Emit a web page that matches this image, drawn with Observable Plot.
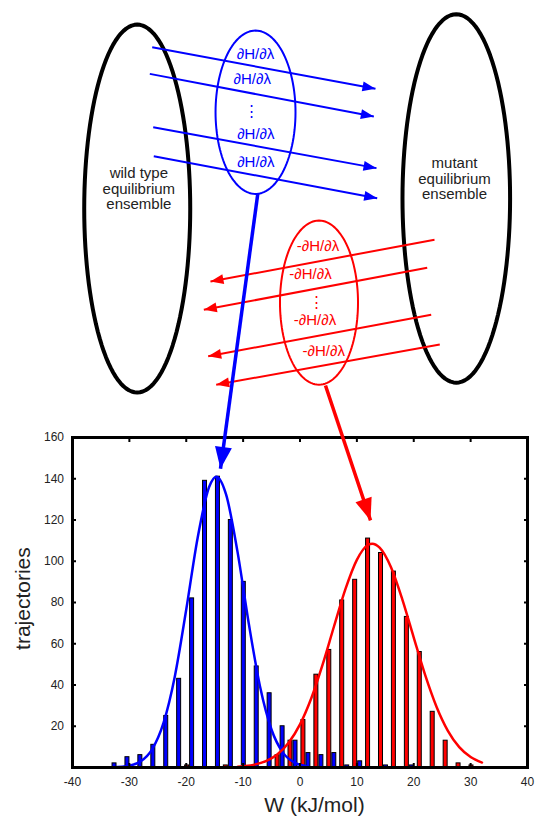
<!DOCTYPE html>
<html><head><meta charset="utf-8">
<script src="https://cdn.jsdelivr.net/npm/d3@7"></script>
<script src="https://cdn.jsdelivr.net/npm/@observablehq/plot@0.6"></script>
<style>html,body{margin:0;padding:0;background:#fff;} #chart svg{display:block;}</style>
</head><body><div id="chart"></div>
<script>
// ---------------- histogram data ----------------
const binCenters = [-33.05,-30.78,-28.51,-26.23,-23.96,-21.69,-19.41,-17.14,-14.87,-12.6,-10.32,-8.05,-5.78,-3.5,-1.23,1.04,3.32,5.59,7.86,10.14,12.41,14.68,16.95,19.23,21.5,23.77,26.05,28.32,30.59];
const wildTypeCounts = [2,5,6,11,25,43,82,139,141,120,90,49,36,20,13,7,6,7,1,3,0,1,0,1,0,0,0,0,0];
const mutantCounts   = [0,0,0,0,0,0,1,0,0,1,0,0,0,6,13,23,45,57,81,91,111,104,95,73,56,27,13,2,1];

// fitted curves, points
const forwardFitW = [-33,-30,-28,-26,-24,-22,-20,-18,-16,-14.7,-13,-11,-9,-7,-5,-3,-1,1];
const forwardFitN = [0.1,0.9,3.0,8.8,21.6,44.3,76.6,111.3,135.9,141,132.4,104.8,69.7,38.9,18.3,7.2,2.4,0.7];
const reverseFitW = [-11,-10,-8,-6,-4,-2,0,2,4,6,8,10,12,12.7,14,16,18,20,22,24,26,28,30,32];
const reverseFitN = [0.3,0.6,1.4,3.1,6.3,12.0,20.9,33.7,50.1,68.6,86.6,100.7,108.0,108.5,106.6,97.1,81.4,63.0,44.9,29.5,17.8,9.9,5.1,2.4];

const xTicks = [-40,-30,-20,-10,0,10,20,30,40];
const yTicks = [20,40,60,80,100,120,140,160];
const xTitle = "W (kJ/mol)";
const yTitle = "trajectories";

// ---------------- schematic (in the same W / trajectories units) ----------------
const ensembleNames = ["wild type\nequilibrium\nensemble", "mutant\nequilibrium\nensemble"];
const ensembleCx = [-28.62, 27.48];
const ensembleCy = [271.0, 275.9];
const ensembleRx = [9.32, 9.46];
const ensembleRy = [89.2, 89.3];
const ensembleLabelX = [-28.34, 27.16];
const ensembleLabelY = [280.6, 285.4];

const switchNames = ["forward", "reverse"];
const switchCx = [-7.82, 3.34];
const switchCy = [317.7, 225.4];
const switchRx = [7.03, 6.86];
const switchRy = [39.6, 39.8];

const forwardArrows = [
  [-25.99,349.2, 13.27,329.1],
  [-26.41,336.3, 12.98,315.6],
  [-25.81,310.4, 13.45,290.6],
  [-25.71,296.4, 13.57,276.0]
];
const reverseArrows = [
  [23.65,255.9, -15.74,235.6],
  [22.37,242.3, -16.91,221.9],
  [23.07,219.5, -16.14,199.4],
  [24.58,205.1, -14.73,185.6]
];
const connectorArrows = [
  [-7.42,278.2, -13.98,144.8],
  [4.48,185.2, 12.4,119.8]
];
const forwardLabels = ["∂H/∂λ","∂H/∂λ","⋮","∂H/∂λ","∂H/∂λ"];
const forwardLabelX = [-7.82,-8.40,-8.53,-7.77,-7.77];
const forwardLabelY = [346.0,333.6,318.2,307.2,293.5];
const reverseLabels = ["-∂H/∂λ","-∂H/∂λ","⋮","-∂H/∂λ","-∂H/∂λ"];
const reverseLabelX = [3.16,1.85,2.90,2.64,4.18];
const reverseLabelY = [252.6,239.4,225.6,216.7,201.8];

// ---------------- build tables ----------------
const BLUE = "#0000ff", RED = "#ff0000";
const bins = binCenters.map((c, i) => ({c, blue: wildTypeCounts[i], red: mutantCounts[i]}));
const fwdFit = forwardFitW.map((w, i) => ({w, n: forwardFitN[i]}));
const revFit = reverseFitW.map((w, i) => ({w, n: reverseFitN[i]}));
const ring = (cx, cy, rx, ry, key) => d3.range(0, 361, 3).map(a => ({key,
  x: cx + rx * Math.cos(a * Math.PI / 180), y: cy + ry * Math.sin(a * Math.PI / 180)}));
const ensembleRings = ensembleNames.flatMap((n, i) => ring(ensembleCx[i], ensembleCy[i], ensembleRx[i], ensembleRy[i], n));
const switchRings = switchNames.map((n, i) => ring(switchCx[i], switchCy[i], switchRx[i], switchRy[i], n));
const toLinks = arr => arr.map(([x1, y1, x2, y2]) => ({x1, y1, x2, y2}));
const ensembleLabels = ensembleNames.map((t, i) => ({t, x: ensembleLabelX[i], y: ensembleLabelY[i]}));
const fLabels = forwardLabels.map((t, i) => ({t, x: forwardLabelX[i], y: forwardLabelY[i]}));
const rLabels = reverseLabels.map((t, i) => ({t, x: reverseLabelX[i], y: reverseLabelY[i]}));

function head(len, wid) {
  return (color) => {
    const ns = "http://www.w3.org/2000/svg";
    const m = document.createElementNS(ns, "marker");
    m.setAttribute("viewBox", `${-len} ${-wid / 2} ${len} ${wid}`);
    m.setAttribute("markerWidth", len);
    m.setAttribute("markerHeight", wid);
    m.setAttribute("markerUnits", "userSpaceOnUse");
    m.setAttribute("refX", 0);
    m.setAttribute("refY", 0);
    m.setAttribute("orient", "auto");
    m.setAttribute("overflow", "visible");
    const p = document.createElementNS(ns, "path");
    p.setAttribute("d", `M0,0L${-len},${-wid / 2}L${-len},${wid / 2}Z`);
    p.setAttribute("fill", color);
    p.setAttribute("stroke", "none");
    m.appendChild(p);
    return m;
  };
}
const font = "'Liberation Sans', Arial, Helvetica, sans-serif";

const chart = Plot.plot({
  width: 538, height: 822,
  marginLeft: 72, marginRight: 11, marginTop: 437, marginBottom: 55,
  style: {fontFamily: font, fontSize: "12px", background: "#fff", color: "#222", overflow: "visible"},
  x: {domain: [-40, 40]},
  y: {domain: [0, 160]},
  marks: [
    Plot.rect(bins, {filter: d => d.red > 0, x1: d => d.c - 0.79, x2: d => d.c - 0.09, y1: 0, y2: "red", fill: RED, stroke: "#000", strokeWidth: 1}),
    Plot.rect(bins, {filter: d => d.blue > 0, x1: d => d.c + 0.09, x2: d => d.c + 0.79, y1: 0, y2: "blue", fill: BLUE, stroke: "#000", strokeWidth: 1}),
    Plot.line(fwdFit, {x: "w", y: "n", stroke: BLUE, strokeWidth: 2.5, curve: "monotone-x"}),
    Plot.line(revFit, {x: "w", y: "n", stroke: RED, strokeWidth: 2.5, curve: "monotone-x"}),
    Plot.frame({stroke: "#000", strokeWidth: 3}),
    Plot.axisX(xTicks, {anchor: "bottom", tickSize: 0, tickPadding: 10, tickFormat: d => String(d), label: null, fontSize: 12, color: "#222"}),
    Plot.axisX(xTicks, {anchor: "bottom", tickSize: -4, tickFormat: () => "", label: null, strokeWidth: 2, color: "#000"}),
    Plot.axisX(xTicks, {anchor: "top", tickSize: -4, tickFormat: () => "", label: null, strokeWidth: 2, color: "#000"}),
    Plot.axisY(yTicks, {anchor: "left", tickSize: 0, tickPadding: 8.5, tickFormat: d => String(d), label: null, fontSize: 12, color: "#222"}),
    Plot.axisY(yTicks, {anchor: "left", tickSize: -4, tickFormat: () => "", label: null, strokeWidth: 2, color: "#000"}),
    Plot.axisY(yTicks, {anchor: "right", tickSize: -4, tickFormat: () => "", label: null, strokeWidth: 2, color: "#000"}),
    Plot.text([xTitle], {x: 2.55, y: -18.4, text: d => d, fontSize: 21, fill: "#222", textAnchor: "middle"}),
    Plot.text([yTitle], {x: -48.67, y: 81.9, text: d => d, fontSize: 21, fill: "#222", rotate: -90, textAnchor: "middle"}),
    // schematic
    Plot.line(ensembleRings, {x: "x", y: "y", z: "key", stroke: "#000", strokeWidth: 4}),
    Plot.line(switchRings[0], {x: "x", y: "y", stroke: BLUE, strokeWidth: 2}),
    Plot.line(switchRings[1], {x: "x", y: "y", stroke: RED, strokeWidth: 2}),
    Plot.link(toLinks(forwardArrows), {x1: "x1", y1: "y1", x2: "x2", y2: "y2", stroke: BLUE, strokeWidth: 2, markerEnd: head(13, 10)}),
    Plot.link(toLinks(reverseArrows), {x1: "x1", y1: "y1", x2: "x2", y2: "y2", stroke: RED, strokeWidth: 2, markerEnd: head(13, 10)}),
    Plot.link(toLinks(connectorArrows).slice(1), {x1: "x1", y1: "y1", x2: "x2", y2: "y2", stroke: RED, strokeWidth: 3.5, markerEnd: head(22, 17)}),
    Plot.link(toLinks(connectorArrows).slice(0, 1), {x1: "x1", y1: "y1", x2: "x2", y2: "y2", stroke: BLUE, strokeWidth: 3.5, markerEnd: head(22, 17)}),
    Plot.text(ensembleLabels, {x: "x", y: "y", text: "t", fontSize: 15, lineHeight: 1.03, fill: "#222", textAnchor: "middle"}),
    Plot.text(fLabels, {x: "x", y: "y", text: "t", fontSize: 15, fill: BLUE, textAnchor: "middle"}),
    Plot.text(rLabels, {x: "x", y: "y", text: "t", fontSize: 15, fill: RED, textAnchor: "middle"})
  ]
});
document.getElementById("chart").appendChild(chart);
</script>
</body></html>
